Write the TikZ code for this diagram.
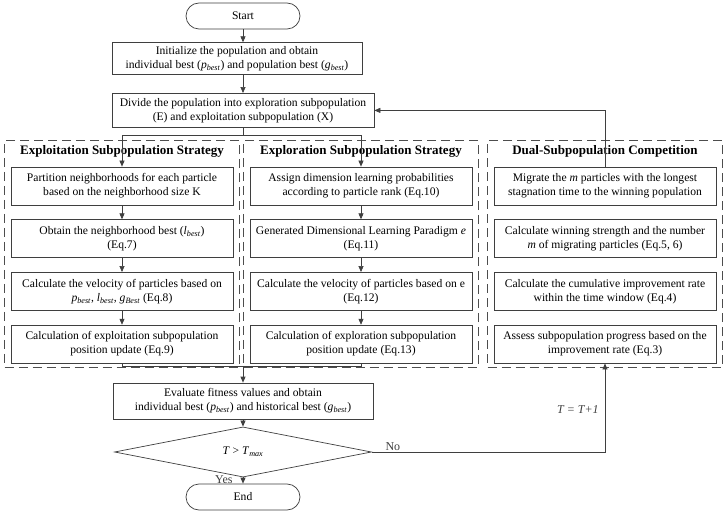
\documentclass[tikz,border=0pt]{standalone}
\usepackage{fontspec}
\setmainfont{Liberation Serif}
\usetikzlibrary{shapes.geometric,arrows.meta,positioning,fit,calc}
\definecolor{linegray}{HTML}{3F3F3F}
\definecolor{dashgray}{HTML}{4D4D4D}
\newcommand{\vsub}[2]{\textit{#1}\textsubscript{\textit{#2}}}

\begin{document}
\begin{tikzpicture}[x=1pt, y=1pt,
  box/.style={rectangle, draw=linegray, fill=white, minimum height=34pt, align=center, font=\fontsize{11.6}{14}\selectfont, line width=0.7pt, inner sep=2pt},
  cbox/.style={box, minimum width=222pt, minimum height=38pt},
  term/.style={box, rounded corners=13pt, minimum width=114pt, minimum height=26pt},
  decision/.style={diamond, draw=linegray, fill=white, minimum width=257pt, minimum height=38pt, inner sep=0pt, font=\fontsize{11.6}{14}\selectfont, line width=0.7pt},
  panel/.style={draw=dashgray, dash pattern=on 9pt off 5pt, line width=0.9pt, inner xsep=6pt, inner ysep=4pt},
  ptitle/.style={font=\fontsize{13}{15}\selectfont\bfseries, inner sep=1pt},
  lbl/.style={font=\fontsize{12}{14}\selectfont, inner sep=1pt},
  arr/.style={-{Triangle[length=6pt,width=5pt]}, line width=0.7pt, linegray},
  link/.style={line width=0.7pt, linegray}
]
\useasboundingbox (0,0) rectangle (726,-513);

% main flow
\node[term] (start) at (243,-16) {Start};
\node[box, minimum width=250pt, minimum height=32pt, below=13pt of start, xshift=-6pt] (init) {Initialize the population and obtain\\individual best (\vsub{p}{best}) and population best (\vsub{g}{best})};
\node[box, minimum width=262pt, below=18pt of init, xshift=6pt] (divide) {Divide the population into exploration subpopulation\\(E) and exploitation subpopulation (X)};

% exploitation column
\node[cbox] (l1) at (122,-186) {Partition neighborhoods for each particle\\based on the neighborhood size K};
\node[cbox, below=14pt of l1] (l2) {Obtain the neighborhood best (\vsub{l}{best})\\(Eq.7)};
\node[cbox, below=14pt of l2] (l3) {Calculate the velocity of particles based on\\\vsub{p}{best}, \vsub{l}{best}, \vsub{g}{Best} (Eq.8)};
\node[cbox, below=14pt of l3] (l4) {Calculation of exploitation subpopulation\\position update (Eq.9)};
\node[ptitle, above=8pt of l1] (ltitle) {Exploitation Subpopulation Strategy};

% exploration column
\node[cbox] (m1) at (361,-186) {Assign dimension learning probabilities\\according to particle rank (Eq.10)};
\node[cbox, below=14pt of m1] (m2) {Generated Dimensional Learning Paradigm \textit{e}\\(Eq.11)};
\node[cbox, below=14pt of m2] (m3) {Calculate the velocity of particles based on e\\(Eq.12)};
\node[cbox, below=14pt of m3] (m4) {Calculation of exploration subpopulation\\position update (Eq.13)};
\node[ptitle, above=8pt of m1] (mtitle) {Exploration Subpopulation Strategy};

% competition column
\node[cbox] (r1) at (605,-186) {Migrate the \textit{m} particles with the longest\\stagnation time to the winning population};
\node[cbox, below=14pt of r1] (r2) {Calculate winning strength and the number\\\textit{m} of migrating particles (Eq.5, 6)};
\node[cbox, below=14pt of r2] (r3) {Calculate the cumulative improvement rate\\within the time window (Eq.4)};
\node[cbox, below=14pt of r3] (r4) {Assess subpopulation progress based on the\\improvement rate (Eq.3)};
\node[ptitle, above=8pt of r1] (rtitle) {Dual-Subpopulation Competition};

\node[panel, fit=(ltitle)(l1)(l4)] (lpanel) {};
\node[panel, fit=(mtitle)(m1)(m4)] (mpanel) {};
\node[panel, fit=(rtitle)(r1)(r4)] (rpanel) {};

\node[box, minimum width=260pt, minimum height=36pt] (eval) at (243,-401) {Evaluate fitness values and obtain\\individual best (\vsub{p}{best}) and historical best (\vsub{g}{best})};
\node[decision] (test) at (243,-452) {\textit{T} > \vsub{T}{max}};
\node[term] (stop) at (243,-497) {End};

% connectors
\draw[arr] (start) -- (start |- init.north);
\draw[arr] (start |- init.south) -- (start |- divide.north);
\draw[link] (divide.south) -- ++(0,-8) coordinate (split);
\draw[arr] (split) -| (l1.north);
\draw[arr] (split) -| (m1.north);
\foreach \a/\b in {l1/l2,l2/l3,l3/l4,m1/m2,m2/m3,m3/m4}
  \draw[arr] (\a) -- (\b);
\draw[link] (l4.south) -- ++(0,-3) coordinate (join) -| (m4.south);
\draw[arr] (join -| eval.north) -- (eval.north);
\draw[arr] (eval) -- (test);
\draw[arr] (test) -- node[lbl, left=9pt, pos=0.4]{Yes} (stop);
\draw[arr] (test.east) -| node[lbl, pos=0.045, above]{No} node[lbl, pos=0.74, left=5pt]{\textit{T = T+1}} (r4.south);
\draw[arr] (r1.north) |- (divide.east);
\end{tikzpicture}
\end{document}
